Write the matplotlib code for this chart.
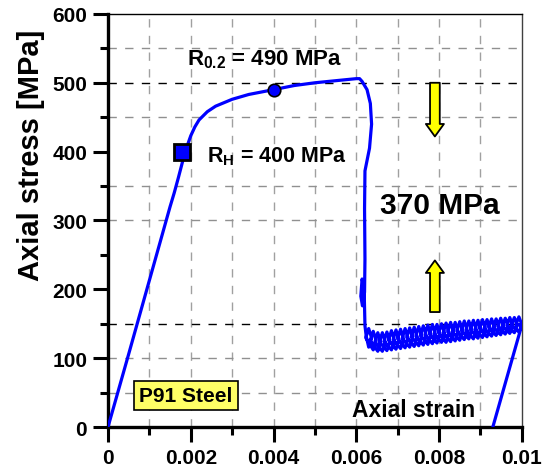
import numpy as np
import matplotlib
matplotlib.use("Agg")
import matplotlib.pyplot as plt

plt.rcParams['font.family'] = ['Liberation Sans', 'DejaVu Sans']
plt.rcParams['font.weight'] = 'bold'
plt.rcParams['mathtext.fontset'] = 'custom'
plt.rcParams['mathtext.rm'] = 'Liberation Sans:bold'
plt.rcParams['mathtext.bf'] = 'Liberation Sans:bold'
plt.rcParams['mathtext.default'] = 'bf'

# monotonic loading up to the upper yield
strain_mono = [0, 0.0005, 0.0010, 0.0015, 0.0016, 0.0017, 0.0018, 0.0019, 0.0020, 0.0021,
               0.0022, 0.0024, 0.0026, 0.0030, 0.0034, 0.0040, 0.0045, 0.0050, 0.0055,
               0.0060, 0.00608]
stress_mono = [0, 106, 213, 320, 340, 362, 385, 406, 423, 436,
               446, 458, 466, 476, 483, 490, 496, 500, 503,
               506, 506]

# sudden stress drop (370 MPa)
strain_drop = [0.00614, 0.00626, 0.00634, 0.00637, 0.00632, 0.00621, 0.00620, 0.00621,
               0.00620, 0.00615, 0.00611, 0.00614, 0.00619, 0.00621, 0.00624]
stress_drop = [502, 490, 470, 440, 405, 372, 317, 244,
               196, 176, 190, 215, 200, 147, 132]

# ratcheting cycles: centre strain, lower and upper stress of each loop
cyc_strain = [0.00630, 0.00641, 0.00652, 0.00663, 0.00674, 0.00685, 0.00696, 0.00707,
              0.00718, 0.00729, 0.00740, 0.00751, 0.00762, 0.00773, 0.00784, 0.00795,
              0.00806, 0.00817, 0.00828, 0.00839, 0.00850, 0.00861, 0.00872, 0.00883,
              0.00894, 0.00905, 0.00916, 0.00927, 0.00938, 0.00949, 0.00960, 0.00971,
              0.00982, 0.00993]
cyc_low = [116, 112, 110, 110, 111, 112, 113, 114, 115, 116, 117, 118, 119, 120, 121, 122,
           123, 123, 124, 125, 126, 127, 128, 128, 129, 130, 131, 132, 133, 134, 135, 136,
           137, 138]
cyc_high = [143, 139, 137, 137, 138, 140, 141, 142, 143, 144, 145, 146, 147, 148, 149, 149,
            150, 151, 152, 152, 153, 154, 154, 155, 155, 156, 156, 157, 157, 158, 158, 159,
            159, 160]

# final unloading
strain_unload = [0.01000, 0.00930]
stress_unload = [148, 0]

xticks = [0, 0.002, 0.004, 0.006, 0.008, 0.01]
xtick_labels = ['0', '0.002', '0.004', '0.006', '0.008', '0.01']
yticks = [0, 100, 200, 300, 400, 500, 600]

# build the loops (diamond-shaped, chained)
w = 0.00007
xs, ys = [], []
for c, lo, hi in zip(cyc_strain, cyc_low, cyc_high):
    mid = (lo + hi) / 2
    xs += [c, c + w, c, c - w]
    ys += [lo, mid, hi, mid]

strain = np.concatenate([strain_mono, strain_drop, xs, strain_unload])
stress = np.concatenate([stress_mono, stress_drop, ys, stress_unload])

fig = plt.figure(figsize=(5.51, 4.77), dpi=100)
ax = fig.add_axes([0.196, 0.1027, 0.751, 0.866])

# grid
for v in np.arange(0.001, 0.01, 0.001):
    ax.axvline(v, color='#a0a0a0', lw=1, ls=(0, (6, 6)), zorder=0)
for v in [50, 100, 300, 350, 450, 550]:
    ax.axhline(v, color='#909090', lw=1, ls=(0, (6, 6)), zorder=0)
for v in [150, 500]:
    ax.axhline(v, color='black', lw=1, ls=(0, (6, 6)), zorder=0)

ax.plot(strain, stress, color='#0000ff', lw=2.3, solid_joinstyle='round', zorder=3)

ax.plot([0.0018], [400], marker='s', ms=11.5, mfc='#0000ff', mec='black', mew=2, zorder=4)
ax.plot([0.004], [490], marker='o', ms=9, mfc='#0000ff', mec='black', mew=1.2, zorder=4)

ax.text(0.0019, 535, r'R$_{0.2}$ = 490 MPa', fontsize=16, ha='left', va='center')
ax.text(0.0024, 394, r'R$_{\mathbf{H}}$ = 400 MPa', fontsize=15.5, ha='left', va='center')
ax.text(0.00657, 322, '370 MPa', fontsize=21.5, ha='left', va='center')
ax.text(0.0059, 25, 'Axial strain', fontsize=16.5, ha='left', va='center')
ax.text(0.00188, 46, 'P91 Steel', fontsize=15, ha='center', va='center',
        bbox=dict(boxstyle='square,pad=0.25', fc='#ffff66', ec='black', lw=1.2))

arrow = dict(facecolor='#ffff00', edgecolor='black', lw=1.3,
             width=7, headwidth=13, headlength=9, shrink=0)
ax.annotate('', xy=(0.0079, 422), xytext=(0.0079, 500), arrowprops=arrow)
ax.annotate('', xy=(0.0079, 242), xytext=(0.0079, 167), arrowprops=arrow)

ax.set_xlim(0, 0.01)
ax.set_ylim(0, 600)
ax.set_xticks(xticks)
ax.set_xticklabels(xtick_labels)
ax.set_yticks(yticks)
ax.set_xticks(np.arange(0.001, 0.01, 0.002), minor=True)
ax.set_yticks(np.arange(50, 600, 100), minor=True)
ax.tick_params(which='major', direction='out', length=11, width=2.2, labelsize=15, pad=4)
ax.tick_params(which='minor', direction='out', length=6, width=2.2)

for s in ['left', 'bottom']:
    ax.spines[s].set_linewidth(2.4)
ax.spines['top'].set_linewidth(1)
ax.spines['right'].set_linewidth(1)
ax.spines['right'].set_color('#404040')

ax.set_ylabel('Axial stress [MPa]', fontsize=21, fontweight='bold')
ax.yaxis.set_label_coords(-0.152, 0.66)

fig.savefig('out.png', dpi=100)
